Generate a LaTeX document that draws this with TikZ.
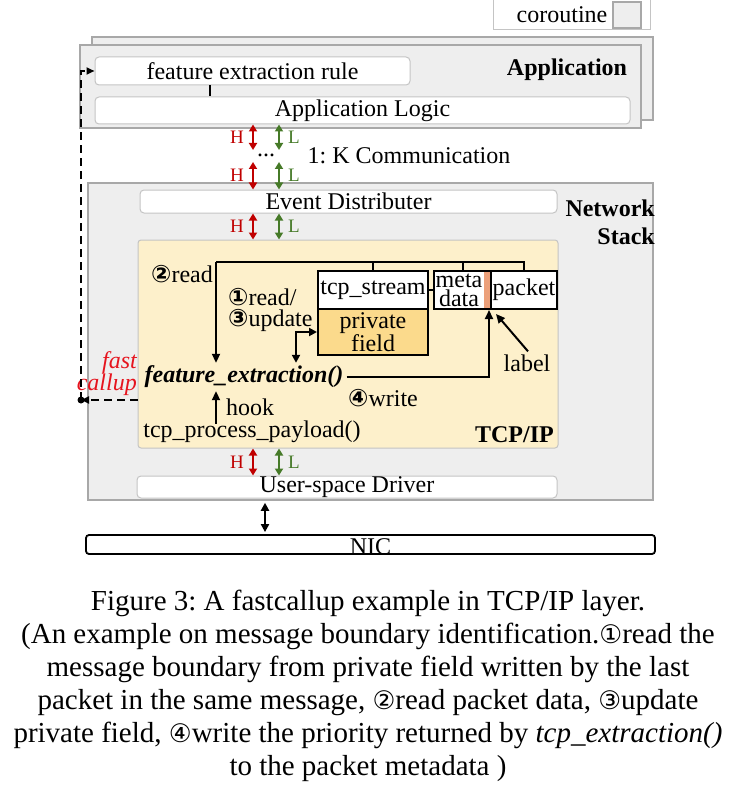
\documentclass[tikz,border=0pt]{standalone}
\usepackage{fontspec}
\setmainfont{Liberation Serif}
\newfontfamily\circfont{DejaVu Sans}
\newfontfamily\capcircfont[Scale=0.88]{DejaVu Sans}
\usetikzlibrary{arrows.meta,positioning}
\definecolor{stackgrey}{RGB}{238,238,238}
\definecolor{edgegrey}{RGB}{168,168,168}
\definecolor{slabgrey}{RGB}{196,196,196}
\definecolor{tcpyellow}{RGB}{253,240,203}
\definecolor{fieldorange}{RGB}{251,218,140}
\definecolor{stripsalmon}{RGB}{236,160,122}
\definecolor{hired}{RGB}{192,0,0}
\definecolor{logreen}{RGB}{70,122,40}
\definecolor{callred}{RGB}{230,20,30}
\newcommand{\cnum}[1]{{\circfont\bfseries #1}}
\newcommand{\capnum}[1]{{\capcircfont #1}}

\tikzset{
  layer/.style={fill=stackgrey,draw=edgegrey,line width=1.5pt,inner sep=0pt},
  slab/.style={fill=white,draw=slabgrey,line width=1pt,rounded corners=4pt,inner sep=0pt},
  cell/.style={draw=black,line width=2pt,inner sep=0pt,align=center,font=\fontsize{24}{19}\selectfont},
  bus/.style={line width=2pt},
  flow/.style={line width=2pt,-{Triangle[length=9pt,width=8pt]}},
  duplex/.style={line width=2pt,{Triangle[length=8pt,width=8pt]}-{Triangle[length=8pt,width=8pt]}},
  hiarrow/.style={hired,line width=2.2pt,{Triangle[length=7pt,width=8pt]}-{Triangle[length=7pt,width=8pt]}},
  loarrow/.style={logreen,line width=2.2pt,{Triangle[length=7pt,width=8pt]}-{Triangle[length=7pt,width=8pt]}},
  hltext/.style={font=\fontsize{19}{18}\selectfont,inner sep=0pt},
  callupline/.style={line width=2pt,dash pattern=on 8pt off 5pt},
  title/.style={font=\fontsize{24}{28}\selectfont\bfseries}
}

\begin{document}
\frenchspacing
\begin{tikzpicture}[x=1pt,y=-1pt,inner sep=3pt,font=\fontsize{24}{26}\selectfont]
\useasboundingbox (0,0) rectangle (736,805);

% legend
\node[draw=slabgrey,line width=1pt,minimum width=157,minimum height=32] (legend) at (571.5,14) {};
\node (corotext) at (562,15) {coroutine};
\node[layer,minimum width=28,minimum height=26] (corobox) at (627,15) {};

% application layer
\node[layer,minimum width=561,minimum height=83] (appback) at (372.5,78.5) {};
\node[layer,minimum width=561,minimum height=83] (appfront) at (360.5,86.5) {};
\node[slab,minimum width=315,minimum height=28] (rule) at (252.5,71) {feature extraction rule};
\node[slab,minimum width=535,minimum height=27] (applogic) at (362.5,110.5) {Application Logic};
\node[title] (apptitle) at (567,70) {Application};
\draw[line width=1.5pt] ([xshift=-42.5pt]rule.south) -- ([xshift=-42.5pt]rule.south |- applogic.north);

% network stack
\node[layer,minimum width=565,minimum height=317] (stack) at (370.5,341.5) {};
\node[title,align=right,anchor=east,inner sep=0pt] (stacktitle) at (655,222) {Network\\Stack};
\node[slab,minimum width=417,minimum height=23] (event) at (348.5,201.5) {Event Distributer};
\node[fill=tcpyellow,draw=slabgrey,line width=1pt,rounded corners=3pt,minimum width=420,minimum height=208] (tcp) at (348,344) {};
\node[slab,minimum width=420,minimum height=22] (driver) at (347,487) {User-space Driver};
\node[draw,line width=1.8pt,rounded corners=3pt,minimum width=569,minimum height=19,inner sep=0pt,
  label={[yshift=-2pt]center:NIC}] (nic) at (370.5,544.5) {};

% H/L channels
\coordinate (hx) at (253,0);
\coordinate (lx) at (279,0);
\coordinate (gaptop) at (266,150);
\coordinate (gapbot) at (266,162);
\node (dots) at (266,155) {...};
\node (kcomm) at (409,156) {1: K Communication};
\foreach \src/\dst in {applogic.south/gaptop,gapbot/event.north,event.south/tcp.north,tcp.south/driver.north}{
  \draw[hiarrow] (hx |- \src) -- (hx |- \dst) node[midway,hltext,hired,left=8pt] {H};
  \draw[loarrow] (lx |- \src) -- (lx |- \dst) node[midway,hltext,logreen,right=8pt] {L};
}

% tcp/ip internals
\node[cell,fill=white,minimum width=110,minimum height=38] (stream) at (373,290) {tcp\_stream};
\node[cell,fill=fieldorange,minimum width=110,minimum height=46] (private) at (373,332) {private\\field};
\node[cell,fill=white,minimum width=57,minimum height=38,
  path picture={\fill[stripsalmon] ([xshift=-7pt]path picture bounding box.north east) rectangle (path picture bounding box.south east);}]
  (meta) at (462.5,290) {meta\hspace*{7pt}\\data\hspace*{7pt}};
\node[cell,fill=white,minimum width=66,minimum height=38] (packet) at (524,290) {packet};
\node[font=\fontsize{24}{24}\selectfont\bfseries\itshape] (fe) at (244,377) {feature\_extraction()};
\node (payload) at (252,432) {tcp\_process\_payload()};
\node (hook) at (250,407) {hook};
\node (readtwo) at (182,274) {\cnum{②}read};
\node[anchor=west,align=left,font=\fontsize{24}{21}\selectfont] (readupd) at (225,310) {\cnum{①}read/\\\cnum{③}update};
\node (writefour) at (383,398) {\cnum{④}write};
\node (lbl) at (527,363) {label};
\node[title,anchor=east,inner sep=0pt] (tcptitle) at (554,435) {TCP/IP};

\coordinate (busleft) at (216,262);
\coordinate (updx) at (296,0);
\draw[bus] (busleft) -| (packet.north);
\draw[bus] (stream.north) -- (stream.north |- busleft);
\draw[bus] (meta.north) -- (meta.north |- busleft);
\draw[bus] (stream.east) -- (meta.west);
\draw[flow] (busleft) -- (busleft |- fe.north);
\draw[duplex] (updx |- fe.north) |- (private.west);
\draw[flow] (fe.east) -| ([xshift=-3pt]meta.south east);
\draw[flow] ([xshift=1pt]lbl.north) -- ([xshift=4pt,yshift=-4pt]meta.south east);
\draw[flow] ([yshift=-6pt]busleft |- payload.north) -- (busleft |- fe.south);

% fast callup
\node[align=right,anchor=east,font=\fontsize{24}{22}\selectfont\itshape,text=callred,inner sep=0pt] (fastcall) at (137,374) {fast\\callup};
\coordinate (tap) at (81,400);
\draw[callupline,-{Triangle[length=8pt,width=7pt]}] (tcp.west |- tap) -- (tap);
\fill (tap) circle (3.5pt);
\draw[callupline,-{Triangle[length=8pt,width=7pt]}] (tap) |- (rule.west);

% driver to NIC
\coordinate (nx) at (265,0);
\draw[duplex,shorten >=2pt,shorten <=2pt] (nx |- stack.south) -- (nx |- nic.north);

% caption
\node[align=center,font=\fontsize{29}{33}\selectfont] (caption) at (368,686) {Figure 3: A fastcallup example in TCP/IP layer.\\
(An example on message boundary identification.\capnum{①}read the\\
message boundary from private field written by the last\\
packet in the same message, \capnum{②}read packet data, \capnum{③}update\\
private field, \capnum{④}write the priority returned by \textit{tcp\_extraction()}\\
to the packet metadata )};
\end{tikzpicture}
\end{document}
